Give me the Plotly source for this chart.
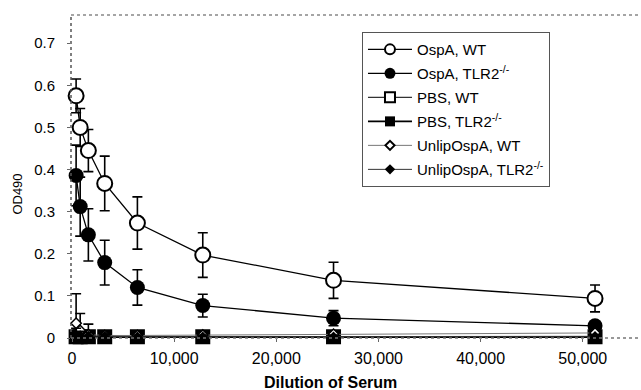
import plotly.graph_objects as go

dilution = [400, 800, 1600, 3200, 6400, 12800, 25600, 51200]

ospa_wt = [0.575, 0.50, 0.445, 0.367, 0.273, 0.197, 0.137, 0.094]
ospa_wt_err = [0.04, 0.045, 0.05, 0.065, 0.062, 0.053, 0.043, 0.032]
ospa_tlr2 = [0.386, 0.312, 0.245, 0.179, 0.12, 0.077, 0.047, 0.029]
ospa_tlr2_err = [0.072, 0.07, 0.062, 0.053, 0.042, 0.027, 0.018, 0.01]
pbs_wt = [0.003, 0.003, 0.003, 0.003, 0.003, 0.003, 0.003, 0.003]
pbs_wt_err = [0.004, 0.004, 0.004, 0.003, 0.003, 0.003, 0.003, 0.003]
pbs_tlr2 = [0.002, 0.002, 0.002, 0.002, 0.002, 0.002, 0.002, 0.002]
pbs_tlr2_err = [0.003, 0.003, 0.003, 0.003, 0.003, 0.003, 0.003, 0.003]
unlip_wt = [0.035, 0.018, 0.008, 0.006, 0.006, 0.007, 0.009, 0.012]
unlip_wt_err = [0.07, 0.04, 0.025, 0.006, 0.005, 0.005, 0.005, 0.005]
unlip_tlr2 = [0.008, 0.006, 0.005, 0.004, 0.003, 0.003, 0.003, 0.004]
unlip_tlr2_err = [0.015, 0.01, 0.008, 0.005, 0.004, 0.004, 0.004, 0.004]

x_ticks = [0, 10000, 20000, 30000, 40000, 50000]
x_ticktext = ["0", "10,000", "20,000", "30,000", "40,000", "50,000"]
y_ticks = [0, 0.1, 0.2, 0.3, 0.4, 0.5, 0.6, 0.7]
y_ticktext = ["0", "0.1", "0.2", "0.3", "0.4", "0.5", "0.6", "0.7"]

# name, values, errors, symbol, plot size, legend size, hollow, line colour, line width
series = [
    ("OspA, WT", ospa_wt, ospa_wt_err, "circle", 15, 10, True, "black", 1.3),
    ("OspA, TLR2<sup>-/-</sup>", ospa_tlr2, ospa_tlr2_err, "circle", 15, 11, False, "black", 1.3),
    ("PBS, WT", pbs_wt, pbs_wt_err, "square", 13, 10, True, "#333", 1.3),
    ("PBS, TLR2<sup>-/-</sup>", pbs_tlr2, pbs_tlr2_err, "square", 13, 10, False, "black", 1.6),
    ("UnlipOspA, WT", unlip_wt, unlip_wt_err, "diamond", 8, 7, True, "#777", 1.0),
    ("UnlipOspA, TLR2<sup>-/-</sup>", unlip_tlr2, unlip_tlr2_err, "diamond", 8, 8, False, "#333", 1.0),
]

fig = go.Figure()
for name, ys, errs, sym, size, lsize, hollow, col, lw in series:
    mline = dict(color="black", width=(2 if size > 10 else 1.5) if hollow else 0)
    fig.add_trace(go.Scatter(
        x=dilution, y=ys, name=name, mode="lines+markers", showlegend=False,
        line=dict(color=col, width=lw),
        marker=dict(symbol=sym, size=size, color="white" if hollow else "black", line=mline),
        error_y=dict(type="data", array=errs, color="black", thickness=1.6, width=5),
        cliponaxis=False,
    ))
# legend entries (smaller symbols, as in the original legend)
for i, (name, ys, errs, sym, size, lsize, hollow, col, lw) in enumerate(series):
    fig.add_trace(go.Scatter(
        x=[None], y=[None], name=name, mode="lines+markers", legendgroup=f"g{i}",
        line=dict(color=col, width=lw),
        marker=dict(symbol=sym, size=lsize, color="white" if hollow else "black",
                    line=dict(color="black", width=2 if hollow else 0)),
    ))

fig.update_layout(
    width=641, height=390,
    margin=dict(l=71, r=0, t=15, b=52),
    paper_bgcolor="white", plot_bgcolor="white",
    font=dict(family="Liberation Sans, Arial, sans-serif", size=15, color="black"),
    showlegend=True,
    legend=dict(x=0.5105, y=0.947, xanchor="left", yanchor="top",
                bordercolor="#555", borderwidth=1, bgcolor="white",
                font=dict(size=15), itemwidth=44, tracegroupgap=1.5),
    xaxis=dict(range=[-100, 55700], tickvals=x_ticks, ticktext=x_ticktext,
               showgrid=False, zeroline=False, showline=False,
               ticks="outside", ticklen=3, tickcolor="#666", tickfont=dict(size=16),
               ticklabelstandoff=3),
    yaxis=dict(range=[0, 0.767], tickvals=y_ticks, ticktext=y_ticktext,
               showgrid=False, zeroline=False, showline=False,
               ticks="outside", ticklen=3, tickcolor="#666", tickfont=dict(size=15),
               ticklabelstandoff=9),
    shapes=[
        dict(type="line", xref="paper", yref="paper", x0=0, x1=1, y0=1, y1=1,
             line=dict(color="#888", width=1.5, dash="dot")),
        dict(type="line", xref="paper", yref="paper", x0=0, x1=0, y0=0, y1=1,
             line=dict(color="#555", width=1.5, dash="dot")),
        dict(type="line", xref="paper", yref="paper", x0=0, x1=1, y0=0, y1=0,
             line=dict(color="#777", width=1.5, dash="dot")),
    ],
    annotations=[
        dict(text="<b>Dilution of Serum</b>", xref="paper", yref="paper",
             x=0.456, y=-0.139, xanchor="center", yanchor="middle",
             showarrow=False, font=dict(size=16)),
        dict(text="OD490", xref="paper", yref="paper", x=-0.093, y=0.447,
             textangle=-90, xanchor="center", yanchor="middle",
             showarrow=False, font=dict(size=13)),
    ],
)

fig.write_html("out.html", config={"displayModeBar": False},
               post_script="document.body.style.margin='0';")
